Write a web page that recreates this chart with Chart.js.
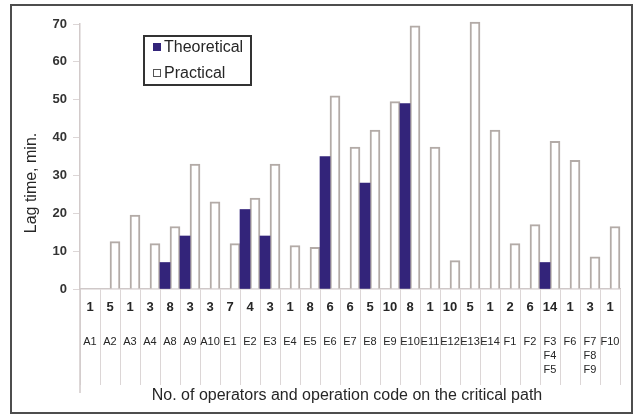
<!DOCTYPE html>
<html>
<head>
<meta charset="utf-8">
<script src="https://cdn.jsdelivr.net/npm/chart.js@4"></script>
<style>
  html, body { margin: 0; padding: 0; background: #fff; }
  #wrap { width: 635px; height: 417px; }
</style>
</head>
<body>
<div id="wrap"><canvas id="my-chart"></canvas></div>
<script>
// operation codes on the critical path (stacked codes = one column)
const codes = [["A1"], ["A2"], ["A3"], ["A4"], ["A8"], ["A9"], ["A10"],
  ["E1"], ["E2"], ["E3"], ["E4"], ["E5"], ["E6"], ["E7"], ["E8"], ["E9"], ["E10"],
  ["E11"], ["E12"], ["E13"], ["E14"], ["F1"], ["F2"], ["F3", "F4", "F5"], ["F6"],
  ["F7", "F8", "F9"], ["F10"]]
// no. of operators
const operators = [1, 5, 1, 3, 8, 3, 3, 7, 4, 3, 1, 8, 6, 6, 5, 10, 8, 1, 10, 5, 1, 2, 6, 14, 1, 3, 1]
// lag time, min.
const theoretical = [null, null, null, null, 7, 14, null, null, 21, 14, null, null, 35, null, 28, null, 49,
  null, null, null, null, null, null, 7, null, null, null]
const practical = [null, 12.5, 19.5, 12, 16.5, 33, 23, 12, 24, 33, 11.5, 11, 51, 37.5, 42, 49.5, 69.5,
  37.5, 7.5, 70.5, 42, 12, 17, 39, 34, 8.5, 16.5]
const yTicks = [0, 10, 20, 30, 40, 50, 60, 70]

const navy = "#33247a"
const outline = "#b3aba7"
const textCol = "#262626"

const extras = {
  id: "extras",
  beforeDraw(chart) {
    const c = chart.ctx
    c.save()
    c.fillStyle = "#fff"
    c.fillRect(0, 0, chart.width, chart.height)
    c.strokeStyle = "#4d4d4d"
    c.lineWidth = 2
    c.strokeRect(11, 5, 621, 408)
    c.restore()
  },
  afterDraw(chart) {
    const c = chart.ctx
    const x = chart.scales.x
    const area = chart.chartArea
    c.save()
    // y axis line runs on down through the label rows
    c.strokeStyle = "#d2caca"
    c.lineWidth = 1.5
    c.beginPath()
    c.moveTo(area.left, area.bottom)
    c.lineTo(area.left, area.bottom + 104)
    c.stroke()

    c.fillStyle = textCol
    c.textAlign = "center"
    c.textBaseline = "middle"
    codes.forEach((lines, i) => {
      const px = x.getPixelForValue(i)
      c.font = "bold 13px 'Liberation Sans', Arial, sans-serif"
      c.fillText(String(operators[i]), px, area.bottom + 18)
      c.font = "11px 'Liberation Sans Narrow', 'Liberation Sans', Arial, sans-serif"
      lines.forEach((t, k) => c.fillText(t, px, area.bottom + 53 + k * 14))
    })
    // axis titles
    c.font = "16px 'Liberation Sans', Arial, sans-serif"
    c.fillText("No. of operators and operation code on the critical path", (area.left + area.right) / 2 - 3, 396)
    c.translate(32, 183)
    c.rotate(-Math.PI / 2)
    c.fillText("Lag time, min.", 0, 0)
    c.restore()

    // legend box
    c.save()
    const lx = area.left + 64, ly = 36
    c.strokeStyle = "#333"
    c.lineWidth = 2
    c.strokeRect(lx, ly, 107, 49)
    c.font = "16px 'Liberation Sans', Arial, sans-serif"
    c.textBaseline = "middle"
    chart.data.datasets.forEach((ds, i) => {
      const cy = ly + 11 + i * 26
      c.fillStyle = ds.backgroundColor
      c.fillRect(lx + 9, cy - 4, 8, 8)
      if (ds.borderWidth) {
        c.strokeStyle = "#555"
        c.lineWidth = 1
        c.strokeRect(lx + 9.5, cy - 3.5, 7, 7)
      }
      c.fillStyle = textCol
      c.fillText(ds.label, lx + 20, cy + 1)
    })
    c.restore()
  }
}

new Chart(document.getElementById("my-chart"), {
  type: "bar",
  data: {
    labels: codes.map(c => c.join(" ")),
    datasets: [{
      label: "Theoretical",
      data: theoretical,
      backgroundColor: navy,
      borderWidth: 0
    }, {
      label: "Practical",
      data: practical,
      backgroundColor: "#ffffff",
      borderColor: outline,
      borderWidth: 2,
      clip: false
    }]
  },
  options: {
    responsive: true,
    maintainAspectRatio: false,
    animation: false,
    layout: { padding: { top: 24, right: 15, left: 0, bottom: 0 } },
    datasets: { bar: { categoryPercentage: 1, barPercentage: 1 } },
    plugins: { legend: { display: false }, tooltip: { enabled: false } },
    scales: {
      x: {
        afterFit(s) { s.height = 128 },
        grid: { offset: true, drawOnChartArea: false, tickLength: 96, color: "#dcd6d6", lineWidth: 1 },
        border: { color: "#cfc8c8", width: 1.5 },
        ticks: { display: false }
      },
      y: {
        min: 0,
        max: 70,
        afterFit(s) { s.width = 80 },
        afterBuildTicks(s) { s.ticks = yTicks.map(v => ({ value: v })) },
        grid: { drawOnChartArea: false, tickLength: 7, color: "#dcd6d6" },
        border: { color: "#d2caca", width: 1.5 },
        ticks: {
          padding: 6,
          color: "#333",
          font: { family: "'Liberation Sans', Arial, sans-serif", size: 13, weight: "bold" }
        }
      }
    }
  },
  plugins: [extras]
})
</script>
</body>
</html>
